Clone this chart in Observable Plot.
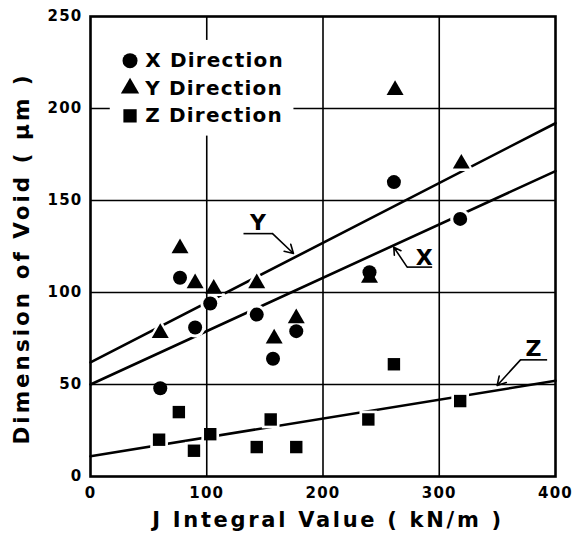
<!DOCTYPE html>
<html>
<head>
<meta charset="utf-8">
<script src="https://cdn.jsdelivr.net/npm/d3@7"></script>
<script src="https://cdn.jsdelivr.net/npm/@observablehq/plot@0.6"></script>
<style>
  html, body { margin: 0; padding: 0; background: #fff; }
  #chart svg { display: block; }
  #chart g[font-size="21"] text { letter-spacing: 2.7px; }
  #chart g[font-size="21.5"] text { letter-spacing: 3px; }
  #chart g[font-size="20"] text { letter-spacing: 1.2px; }
  #chart g[font-size="15"] text { letter-spacing: 1.2px; }
</style>
</head>
<body>
<div id="chart"></div>
<script>
// ---- Data ----
const xDirJ   = [60, 77, 90, 103, 143, 157, 177, 240, 261, 318];
const xDirVal = [48, 108, 81, 94, 88, 64, 79, 111, 160, 140];

const yDirJ   = [60, 77, 90, 106, 143, 158, 177, 240, 262, 319];
const yDirVal = [78, 124, 105, 102, 105, 75, 86, 108, 210, 170];

const zDirJ   = [59, 76, 89, 103, 143, 155, 177, 239, 261, 318];
const zDirVal = [20, 35, 14, 23, 16, 31, 16, 31, 61, 41];

// Fitted lines (endpoints at J = 0 and J = 400)
const fitJ = [0, 400];
const fitX = [50, 166];
const fitY = [62, 192];
const fitZ = [11, 52];

const xTicks = [0, 100, 200, 300, 400];
const yTicks = [0, 50, 100, 150, 200, 250];
const xGrid = [100, 200, 300];
const yGrid = [50, 100, 150, 200];

const legendNames = ["X Direction", "Y Direction", "Z Direction"];
const legendSymbols = ["circle", "triangle", "square"];
const legendMarkJ = 34;
const legendTextJ = 47;
const legendVal = [226, 211, 196];
const legendBox = {x1: 17, x2: 175, y1: 185, y2: 237};

// Annotation labels with leader lines
const annLabel = ["Y", "X", "Z"];
const annTextJ = [144, 287, 381];
const annTextV = [138, 119, 69.5];
const annLineJ1 = [131.6, 272.4, 369.9];
const annLineJ2 = [156.6, 293.9, 392.8];
const annLineV = [132, 113.8, 63.4];
const annArrowFromJ = [156.6, 272.4, 369.9];
const annArrowFromV = [132, 113.8, 63.4];
const annArrowToJ = [174.6, 260.9, 349.8];
const annArrowToV = [121.2, 124.6, 49.5];

const xLabel = "J Integral Value ( kN/m )";
const yLabel = "Dimension of Void ( μm )";

// ---- Build tables ----
const symbolRadius = {circle: 7, triangle: 6.3, square: 7};
const pts = [
  ...xDirJ.map((j, i) => ({j, v: xDirVal[i], s: "circle"})),
  ...yDirJ.map((j, i) => ({j, v: yDirVal[i], s: "triangle"})),
  ...zDirJ.map((j, i) => ({j, v: zDirVal[i], s: "square"}))
];
const fits = [fitX, fitY, fitZ].map((f, k) => fitJ.map((j, i) => ({j, v: f[i], k}))).flat();
const legend = legendNames.map((n, i) => ({n, s: legendSymbols[i], v: legendVal[i]}));
const ann = annLabel.map((t, i) => ({
  t, tj: annTextJ[i], tv: annTextV[i],
  lj1: annLineJ1[i], lj2: annLineJ2[i], lv: annLineV[i],
  aj1: annArrowFromJ[i], av1: annArrowFromV[i], aj2: annArrowToJ[i], av2: annArrowToV[i]
}));

const FONT = "'DejaVu Sans', sans-serif";

const chart = Plot.plot({
  width: 573,
  height: 539,
  marginLeft: 90,
  marginRight: 18,
  marginTop: 16,
  marginBottom: 63,
  style: {fontFamily: FONT, fontWeight: "bold", color: "#000", background: "#fff"},
  x: {domain: [0, 400]},
  y: {domain: [0, 250]},
  r: {type: "identity"},
  symbol: {domain: ["circle", "triangle", "square"], range: ["circle", "triangle", "square"]},
  marks: [
    // regression lines
    Plot.line(fits, {x: "j", y: "v", z: "k", stroke: "#000", strokeWidth: 2.6}),
    // white halos creating gaps in the lines around markers
    Plot.dot(pts, {x: "j", y: "v", symbol: "s", r: d => symbolRadius[d.s] + 3, fill: "#fff", stroke: "none"}),
    // grid
    Plot.ruleX(xGrid, {stroke: "#000", strokeWidth: 1.6}),
    Plot.ruleY(yGrid, {stroke: "#000", strokeWidth: 1.6}),
    // legend background
    Plot.rect([legendBox], {x1: "x1", x2: "x2", y1: "y1", y2: "y2", fill: "#fff"}),
    // frame
    Plot.frame({stroke: "#000", strokeWidth: 2.6}),
    // data markers
    Plot.dot(pts, {x: "j", y: "v", symbol: "s", r: d => symbolRadius[d.s], fill: "#000", stroke: "none"}),
    // legend
    Plot.dot(legend, {x: () => legendMarkJ, y: "v", symbol: "s", r: d => symbolRadius[d.s] + 0.5, fill: "#000", stroke: "none"}),
    Plot.text(legend, {x: () => legendTextJ, y: "v", text: "n", textAnchor: "start", fontSize: 20, fontWeight: "bold", fill: "#000"}),
    // annotations
    Plot.text(ann, {x: "tj", y: "tv", text: "t", fontSize: 22, fontWeight: "bold", fill: "#000"}),
    Plot.link(ann, {x1: "lj1", x2: "lj2", y1: "lv", y2: "lv", stroke: "#000", strokeWidth: 1.6}),
    Plot.arrow(ann, {x1: "aj1", y1: "av1", x2: "aj2", y2: "av2", stroke: "#000", strokeWidth: 1.6, headLength: 9}),
    // axes
    Plot.axisX(xTicks, {tickSize: 0, tickPadding: 11, fontSize: 15, fontWeight: "bold", label: null}),
    Plot.axisY(yTicks, {tickSize: 0, tickPadding: 8, fontSize: 15, fontWeight: "bold", label: null}),
    Plot.text([xLabel], {frameAnchor: "bottom", textAnchor: "middle", lineAnchor: "middle", dx: 5, dy: 44, fontSize: 21, fontWeight: "bold", fill: "#000"}),
    Plot.text([yLabel], {frameAnchor: "left", textAnchor: "middle", lineAnchor: "middle", rotate: -90, dx: -68, dy: 12, fontSize: 21.5, fontWeight: "bold", fill: "#000"})
  ]
});
document.getElementById("chart").appendChild(chart);
</script>
</body>
</html>
